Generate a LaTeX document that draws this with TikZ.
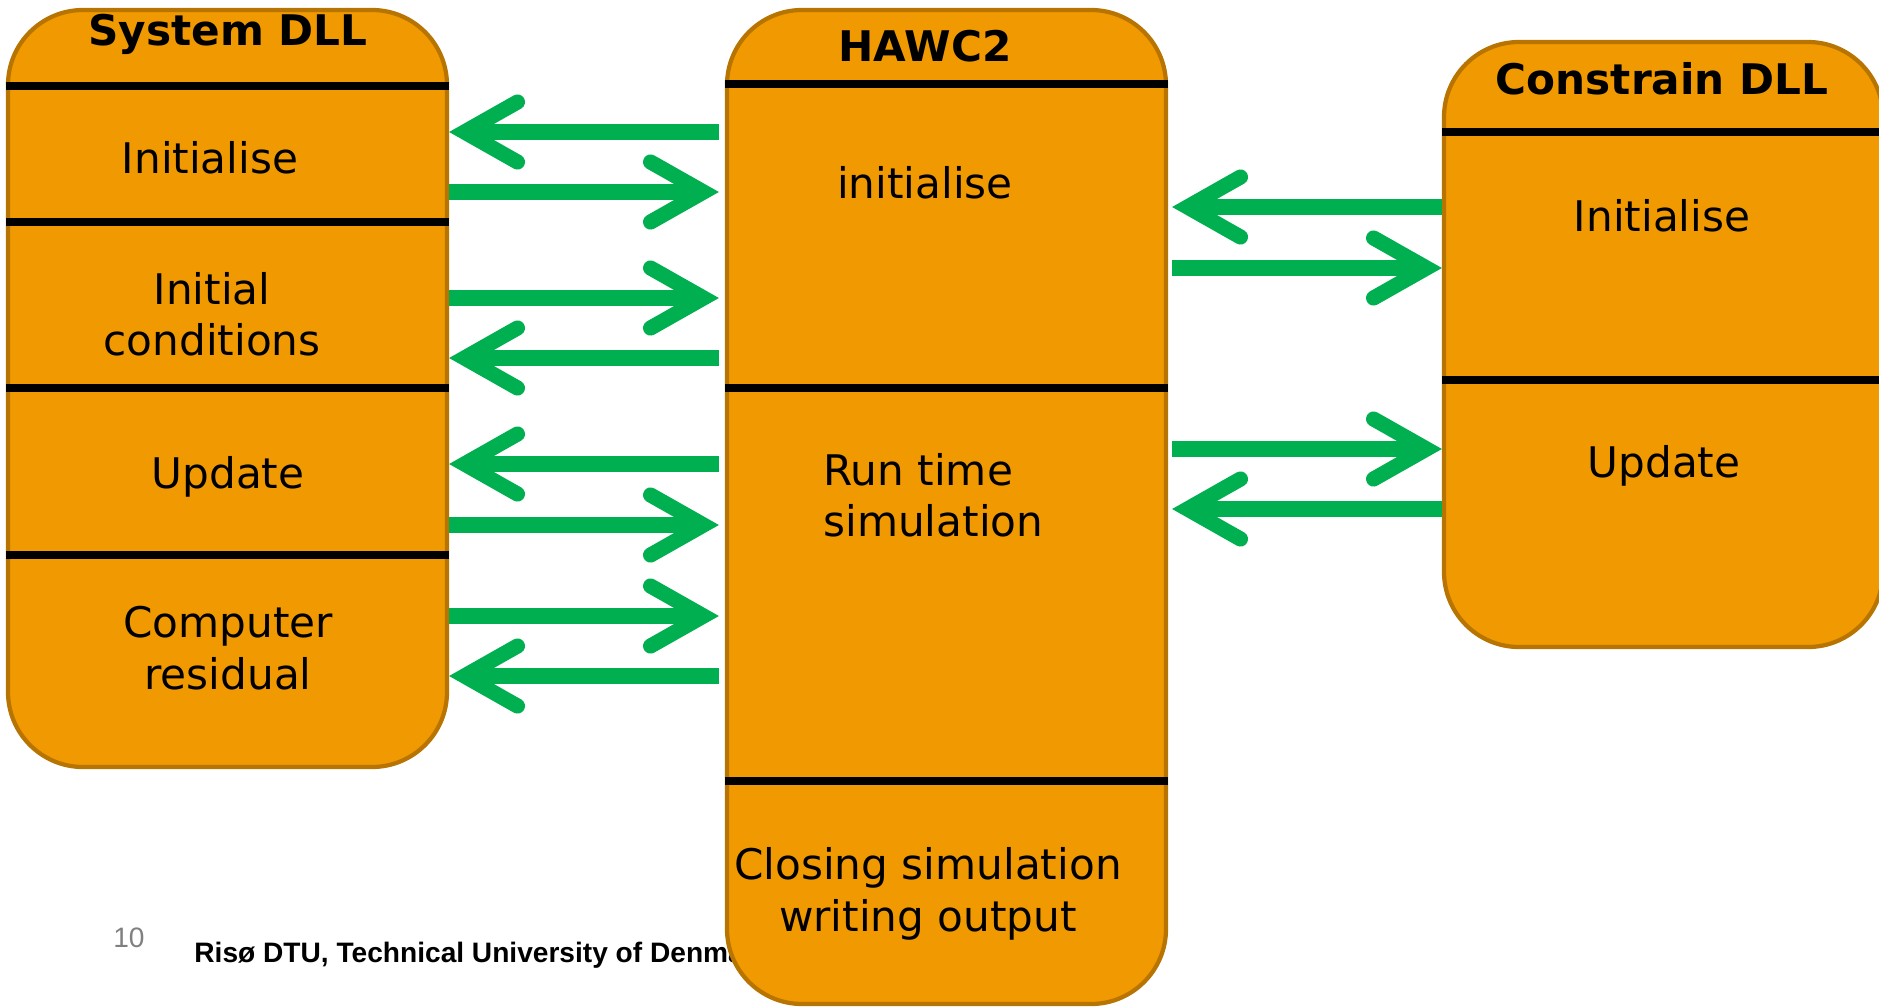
\documentclass[tikz,border=0pt]{standalone}
\usepackage{fontspec}
\setmainfont{DejaVu Sans}
\newfontfamily\footfont{Liberation Sans}
\usetikzlibrary{arrows.meta}

\definecolor{boxfill}{RGB}{240,153,0}
\definecolor{boxrim}{RGB}{184,116,0}
\definecolor{flowgreen}{RGB}{0,176,80}

\begin{document}
\begin{tikzpicture}[
  block/.style   = {draw=boxrim, line width=1.2pt, fill=boxfill, inner sep=0pt,
                    rounded corners=0.75cm, minimum width=4.39cm},
  divider/.style = {line width=2pt, black},
  title/.style   = {font=\fontsize{12}{14.6}\selectfont\bfseries},
  lbl/.style     = {font=\fontsize{12}{14.6}\selectfont, align=center},
  flow/.style    = {flowgreen, line width=4.3pt,
                    -{Straight Barb[length=5.3mm, width=6mm, line cap=round, line join=miter]}},
  foot/.style    = {font=\footfont\fontsize{8}{10}\selectfont},
]
  \useasboundingbox (0,0) rectangle (18.79,-10.07);

  % slide footer, partly hidden behind the HAWC2 block
  \node[foot, text=gray] (page) at (1.29,-9.38) {10};
  \node[foot, font=\footfont\fontsize{8}{10}\selectfont\bfseries, anchor=west] (org) at (1.82,-9.55) {Risø DTU, Technical University of Denmark};

  \node[block, minimum height=7.57cm] (sys)  at (2.275,-3.885) {};
  \node[block, minimum height=9.94cm] (hawc) at (9.465,-5.07) {};
  \node[block, minimum height=6.05cm] (con)  at (16.635,-3.445) {};

  \draw[divider] (sys.west |- 0,-0.86) -- (sys.east |- 0,-0.86);
  \draw[divider] (sys.west |- 0,-2.22) -- (sys.east |- 0,-2.22);
  \draw[divider] (sys.west |- 0,-3.88) -- (sys.east |- 0,-3.88);
  \draw[divider] (sys.west |- 0,-5.55) -- (sys.east |- 0,-5.55);
  \draw[divider] (hawc.west |- 0,-0.84) -- (hawc.east |- 0,-0.84);
  \draw[divider] (hawc.west |- 0,-3.88) -- (hawc.east |- 0,-3.88);
  \draw[divider] (hawc.west |- 0,-7.81) -- (hawc.east |- 0,-7.81);
  \draw[divider] (con.west |- 0,-1.32) -- (con.east |- 0,-1.32);
  \draw[divider] (con.west |- 0,-3.80) -- (con.east |- 0,-3.80);

  \node[title] (systitle)  at (2.28,-0.34) {System DLL};
  \node[title] (hawctitle) at (9.25,-0.46) {HAWC2};
  \node[title] (contitle)  at (16.62,-0.79) {Constrain DLL};

  \node[lbl] (sysinit)   at (2.10,-1.58) {Initialise};
  \node[lbl] (syscond)   at (2.12,-3.14) {Initial\\conditions};
  \node[lbl] (sysupd)    at (2.28,-4.77) {Update};
  \node[lbl] (sysres)    at (2.28,-6.48) {Computer\\residual};
  \node[lbl] (hawcinit)  at (9.25,-1.83) {initialise};
  \node[lbl, align=left, anchor=west] (hawcrun) at (8.11,-4.95) {Run time\\simulation};
  \node[lbl] (hawcclose) at (9.28,-8.94) {Closing simulation\\writing output};
  \node[lbl] (coninit)   at (16.62,-2.16) {Initialise};
  \node[lbl] (conupd)    at (16.64,-4.66) {Update};

  % where the arrows meet the HAWC2 block
  \coordinate (hawcl) at ([xshift=-0.06cm]hawc.west);
  \coordinate (hawcr) at ([xshift=0.04cm]hawc.east);

  % calls between System DLL and HAWC2
  \draw[flow] (hawcl |- 0,-1.32) -- (sys.east |- 0,-1.32);
  \draw[flow] (sys.east |- 0,-1.92) -- (hawcl |- 0,-1.92);
  \draw[flow] (sys.east |- 0,-2.98) -- (hawcl |- 0,-2.98);
  \draw[flow] (hawcl |- 0,-3.58) -- (sys.east |- 0,-3.58);
  \draw[flow] (hawcl |- 0,-4.64) -- (sys.east |- 0,-4.64);
  \draw[flow] (sys.east |- 0,-5.25) -- (hawcl |- 0,-5.25);
  \draw[flow] (sys.east |- 0,-6.16) -- (hawcl |- 0,-6.16);
  \draw[flow] (hawcl |- 0,-6.76) -- (sys.east |- 0,-6.76);

  % calls between HAWC2 and Constrain DLL
  \draw[flow] (con.west |- 0,-2.07) -- (hawcr |- 0,-2.07);
  \draw[flow] (hawcr |- 0,-2.68) -- (con.west |- 0,-2.68);
  \draw[flow] (hawcr |- 0,-4.49) -- (con.west |- 0,-4.49);
  \draw[flow] (con.west |- 0,-5.09) -- (hawcr |- 0,-5.09);
\end{tikzpicture}
\end{document}
